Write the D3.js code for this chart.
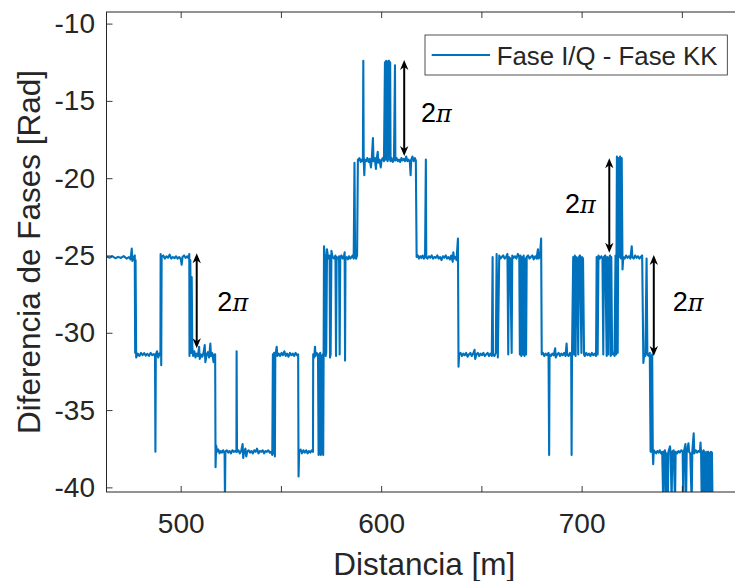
<!DOCTYPE html>
<html><head><meta charset="utf-8">
<script src="https://cdn.jsdelivr.net/npm/d3@7"></script>
<style>
body{margin:0;background:#fff}
svg{display:block}
text{font-family:"Liberation Sans",Arial,sans-serif;fill:#262626}
</style>
</head><body>
<svg id="c" width="735" height="581"></svg>
<script>
// ---------- data: distance [m], phase difference [rad] ----------
const seg1 = [[463.2,-25.08],[464.6,-25.14],[466.0,-25.05],[467.4,-25.18],[468.8,-25.09],[470.2,-25.16],[471.6,-25.04],[473.0,-25.2],[474.2,-25.1],[475.0,-25.25],[475.6,-24.55],[475.9,-25.35],[476.6,-25.1],[477.1,-25.0],[477.3,-31.3],[477.5,-25.3],[477.8,-31.6],[478.6,-31.35],[479.4,-31.5],[480.2,-31.3],[481.0,-31.45],[481.8,-31.32],[482.6,-31.48],[483.4,-31.36],[484.2,-31.5],[485.0,-31.3],[485.8,-31.45],[486.6,-31.38],[487.2,-31.5],[487.4,-37.7],[487.6,-31.4],[488.2,-31.2],[488.8,-31.6],[489.4,-31.35],[489.9,-31.45],[490.0,-24.9],[490.3,-32.1],[490.5,-25.1],[491.3,-25.0],[492.1,-25.2],[492.9,-25.05],[493.7,-25.15],[494.5,-24.95],[495.3,-25.2],[496.1,-25.1],[496.9,-25.18],[497.7,-25.05],[498.5,-25.2],[499.3,-25.1],[500.1,-25.25],[500.5,-25.6],[500.9,-25.1],[501.7,-25.0],[502.5,-25.15],[503.3,-25.05],[504.0,-25.2],[504.3,-24.9],[504.4,-31.5],[504.8,-25.3],[505.2,-31.3],[505.5,-26.4],[505.8,-30.9],[506.2,-31.5],[506.8,-31.2],[507.4,-31.6],[508.0,-31.35],[508.6,-31.5],[509.2,-30.9],[509.5,-31.7],[510.2,-31.4],[510.8,-31.55],[511.4,-31.3],[512.0,-30.8],[512.3,-31.9],[513.0,-31.4],[513.6,-31.25],[514.2,-31.6],[514.8,-30.7],[515.1,-31.5],[515.7,-31.3],[516.4,-31.9],[516.9,-31.4],[517.2,-31.4],[517.4,-38.7],[517.7,-37.3],[518.2,-37.7]];
const seg2 = [[518.8,-37.55],[519.4,-37.8],[520.0,-37.65],[520.6,-37.75],[521.2,-37.6],[521.9,-37.8],[522.1,-40.8],[522.3,-37.7],[523.0,-37.6],[523.7,-37.75],[524.4,-37.65],[525.1,-37.8],[525.8,-37.6],[526.5,-37.7],[527.2,-37.65],[527.8,-37.7],[527.9,-31.2],[528.1,-37.7],[528.8,-37.6],[529.5,-37.8],[530.2,-37.65],[530.9,-37.2],[531.2,-38.1],[531.6,-37.7],[532.3,-37.5],[532.7,-38.0],[533.2,-37.7],[533.9,-37.6],[534.6,-37.75],[535.3,-37.65],[536.0,-37.8],[536.7,-37.6],[537.4,-37.7],[538.1,-37.5],[538.8,-37.8],[539.5,-37.65],[540.2,-37.7],[540.9,-37.6],[541.6,-37.8],[542.3,-37.65],[543.0,-37.7],[543.7,-37.6],[544.4,-37.75],[545.1,-37.7],[545.7,-37.9],[546.0,-31.4],[546.3,-37.8],[546.6,-31.3],[547.0,-38.0],[547.2,-31.5],[547.9,-30.9],[548.2,-31.5],[548.9,-31.35],[549.6,-31.5],[550.3,-31.3],[551.0,-31.45],[551.7,-31.2],[552.4,-31.5],[553.1,-31.35],[553.8,-31.55],[554.5,-31.3],[555.2,-31.45],[555.9,-31.35],[556.6,-31.5],[557.3,-31.3],[558.0,-31.45],[558.6,-31.4],[558.8,-39.3],[559.1,-37.7],[559.8,-37.55],[560.5,-37.8],[561.2,-37.6],[561.9,-37.75],[562.6,-37.6],[563.3,-37.8],[564.0,-37.65],[564.7,-37.75],[565.4,-37.6],[566.0,-37.7],[566.1,-31.4],[566.6,-31.6],[567.0,-30.9],[567.3,-31.5],[567.9,-31.3],[568.5,-31.45],[568.8,-37.9],[569.0,-31.4],[569.3,-37.8],[569.6,-31.3],[569.9,-37.9],[570.2,-31.5],[570.5,-37.8],[570.8,-31.4],[571.1,-37.9],[571.3,-31.5],[571.5,-24.4],[572.0,-25.1],[572.3,-31.5],[572.6,-31.3],[573.0,-24.6],[573.6,-25.2],[574.3,-25.0],[574.5,-31.6],[574.8,-31.4],[575.2,-24.7],[575.8,-25.1],[576.5,-25.2],[577.2,-25.0],[577.5,-31.5],[577.8,-25.1],[578.4,-25.2],[579.0,-25.05],[579.3,-31.4],[579.6,-25.1],[580.2,-25.0],[580.8,-25.2],[581.4,-25.1],[581.8,-24.8],[582.0,-31.8],[582.2,-25.2],[582.8,-25.1],[583.4,-25.25],[584.0,-25.05],[584.6,-25.2],[585.2,-25.1],[585.8,-25.0],[586.3,-25.2],[586.7,-19.0],[587.0,-25.1],[587.5,-25.2],[588.0,-25.0],[588.4,-18.8]];
const seg3 = [[588.6,-18.85],[589.2,-18.7],[589.8,-18.95],[590.4,-18.8],[590.9,-18.9],[591.1,-12.4],[591.3,-18.8],[591.6,-19.8],[591.9,-18.8],[592.5,-18.9],[593.1,-18.7],[593.7,-18.95],[594.3,-18.75],[594.9,-19.3],[595.3,-18.8],[595.9,-17.4],[596.2,-18.9],[596.8,-18.7],[597.4,-19.4],[597.7,-18.8],[598.3,-18.3],[598.6,-19.0],[599.2,-18.8],[599.8,-19.3],[600.2,-18.85],[600.8,-18.7],[601.4,-18.9],[601.9,-12.5],[602.2,-18.8],[602.5,-12.4],[602.9,-12.5],[603.2,-18.9],[603.5,-12.45],[603.9,-12.4],[604.2,-18.8],[604.5,-12.5],[604.7,-18.9],[605.2,-18.7],[605.8,-18.95],[606.4,-18.8],[606.9,-12.7],[607.1,-18.85],[607.7,-18.7],[608.3,-18.9],[608.9,-18.8],[609.5,-18.95],[610.1,-18.7],[610.7,-18.85],[611.3,-18.75],[611.9,-18.9],[612.5,-18.6],[613.1,-18.9],[613.7,-18.8],[614.3,-18.95],[614.7,-19.8],[615.0,-18.8],[615.6,-18.6],[616.2,-18.9],[616.8,-18.7],[617.3,-18.85],[617.7,-25.1],[618.3,-25.0],[618.9,-25.2],[619.5,-25.05],[620.1,-25.15],[620.7,-25.0],[621.3,-25.2],[621.9,-25.1],[622.3,-18.8],[622.5,-25.1],[623.1,-25.2],[623.8,-25.05],[624.5,-25.15],[625.2,-25.0],[625.9,-25.2],[626.6,-25.1],[627.3,-25.15],[628.0,-25.0],[628.7,-25.2],[629.4,-25.1],[630.1,-25.3],[630.8,-25.05],[631.5,-25.15],[632.2,-25.0],[632.9,-25.2],[633.6,-25.1],[634.3,-25.25],[635.0,-25.0],[635.7,-25.4],[636.0,-24.8],[636.4,-25.2],[637.0,-25.1],[637.6,-25.3],[638.3,-23.9],[638.6,-32.2]];
const seg4 = [[638.9,-31.4],[639.6,-31.3],[640.3,-31.5],[641.0,-31.35],[641.7,-31.45],[642.4,-31.3],[643.1,-31.55],[643.8,-31.4],[644.5,-31.3],[645.2,-31.5],[645.9,-31.35],[646.6,-31.1],[646.9,-31.7],[647.5,-31.4],[648.2,-31.3],[648.9,-31.5],[649.6,-31.35],[650.3,-31.45],[651.0,-31.3],[651.7,-31.5],[652.4,-31.4],[653.1,-31.3],[653.8,-31.5],[654.5,-31.35],[655.2,-31.5],[655.6,-25.1],[655.8,-31.4],[656.5,-31.5],[657.2,-31.3],[657.6,-24.9],[658.2,-31.6],[658.9,-25.0],[659.5,-25.2],[660.2,-25.1],[660.9,-25.0],[661.6,-25.2],[662.3,-25.1],[663.0,-24.9],[663.4,-31.4],[663.7,-25.1],[664.4,-25.2],[665.1,-31.3],[665.4,-25.0],[666.1,-25.15],[666.8,-25.05],[667.5,-25.2],[668.2,-24.9],[668.9,-25.1],[669.2,-31.4],[669.5,-25.0],[669.9,-31.5],[670.3,-25.1],[670.7,-31.4],[671.1,-25.0],[671.5,-31.5],[671.9,-25.2],[672.3,-31.4],[672.6,-25.1],[673.3,-25.0],[674.0,-25.2],[674.7,-25.1],[675.4,-25.0],[676.1,-25.25],[676.8,-25.05],[677.5,-25.2],[678.2,-24.6],[678.5,-25.2],[679.2,-25.1],[679.8,-23.9],[680.1,-31.4],[680.7,-31.3],[681.4,-31.5],[682.1,-31.35],[682.8,-31.45],[683.5,-31.3],[683.8,-37.9],[684.0,-31.4],[684.7,-31.5],[685.4,-31.35],[686.1,-31.45],[686.8,-31.0],[687.1,-31.6],[687.8,-31.4],[688.5,-31.3],[689.2,-31.5],[689.9,-31.35],[690.6,-31.45],[691.3,-31.3],[692.0,-31.5],[692.5,-30.7],[692.8,-31.4],[693.5,-31.5],[694.2,-31.3],[694.8,-31.5],[695.0,-37.9],[695.2,-31.4],[695.8,-25.1],[696.2,-31.4],[696.6,-25.0],[697.0,-31.5],[697.3,-25.1],[697.8,-25.2],[698.3,-31.4],[698.6,-25.1],[699.2,-25.0],[699.9,-31.3],[700.2,-25.1],[700.7,-25.2],[701.2,-31.4]];
const seg5 = [[701.6,-31.5],[702.3,-31.3],[703.0,-31.45],[703.7,-31.35],[704.4,-31.5],[705.1,-31.3],[705.8,-31.45],[706.5,-31.35],[707.2,-31.5],[707.5,-25.1],[708.0,-31.4],[708.4,-25.0],[709.1,-25.2],[709.8,-25.05],[710.4,-25.2],[710.8,-31.4],[711.1,-25.1],[711.8,-25.0],[712.5,-31.5],[712.8,-25.1],[713.3,-31.4],[713.6,-25.2],[714.2,-25.0],[714.5,-31.5],[714.8,-25.1],[715.2,-31.4],[715.8,-31.3],[716.4,-31.5],[716.9,-25.0],[717.2,-31.4],[717.6,-18.6],[718.0,-31.3],[718.4,-18.7],[718.8,-25.1],[719.2,-18.6],[719.6,-25.2],[720.0,-18.7],[720.4,-25.9],[720.8,-25.1],[721.5,-25.2],[722.2,-25.0],[722.9,-25.15],[723.6,-25.05],[724.3,-25.2],[725.0,-24.4],[725.3,-25.1],[726.0,-25.2],[726.7,-25.0],[727.4,-25.15],[728.1,-25.05],[728.8,-25.2],[729.5,-25.1],[730.2,-25.0],[730.8,-31.95],[731.2,-31.4],[731.8,-31.5],[732.4,-25.2],[732.8,-31.4],[733.4,-31.5],[734.0,-31.3],[734.4,-37.7],[734.6,-31.5],[734.9,-37.7],[735.2,-31.4],[735.5,-37.8],[735.7,-38.5],[736.0,-37.6],[736.6,-37.7],[737.2,-37.8],[737.8,-37.65],[738.4,-37.75],[739.0,-37.6],[739.6,-37.8],[740.2,-37.7],[740.7,-41],[741.0,-37.7],[741.6,-37.6],[742.0,-41],[742.3,-37.8],[743.0,-41],[743.3,-37.7],[744.1,-37.35],[744.4,-37.8],[744.9,-41],[745.2,-37.7],[745.9,-37.6],[746.6,-41],[746.9,-37.7],[747.6,-37.8],[748.3,-37.65],[749.0,-37.75],[749.7,-37.6],[750.4,-37.7],[750.7,-41],[751.0,-37.7],[751.8,-37.2],[752.1,-41],[752.4,-37.8],[753.3,-37.15],[753.6,-37.7],[754.2,-37.8],[754.9,-41],[755.2,-37.7],[755.9,-36.5],[756.2,-37.8],[756.9,-37.6],[757.6,-37.75],[758.3,-37.65],[759.0,-37.7],[759.3,-37.1],[759.6,-37.8],[759.9,-41],[760.2,-37.7],[760.5,-41],[760.8,-37.6],[761.1,-41],[761.4,-37.7],[761.7,-41],[762.0,-37.8],[762.3,-41],[762.6,-37.7],[762.9,-41],[763.2,-37.7],[763.5,-41],[763.8,-37.8],[764.2,-41],[764.5,-37.7],[765.0,-37.75],[765.3,-41]];

const xTicks = [500, 550, 600, 650, 700, 750];
const xTickLabels = ["500", "", "600", "", "700", ""];
const yTicks = [-40, -35, -30, -25, -20, -15, -10];
const yTickLabels = ["-40", "-35", "-30", "-25", "-20", "-15", "-10"];

// 2π annotations: x, top and bottom of double arrow
const arrowX = [508, 611.5, 713.8, 736];
const arrowTop = [-24.86, -12.35, -18.71, -24.97];
const arrowBottom = [-31.0, -18.56, -24.82, -31.5];
const noteX = [518.3, 619.9, 691.7, 745.4];
const noteY = [-28.57, -16.35, -22.27, -28.59];

const seriesName = "Fase I/Q - Fase KK";
const xLabel = "Distancia [m]";
const yLabel = "Diferencia de Fases [Rad]";

// ---------- drawing ----------
const L = 106.5, T = 12, R = 742, B = 492;
const svg = d3.select("#c");
const x = d3.scaleLinear().domain([463, 780]).range([L, R]);
const y = d3.scaleLinear().domain([-40.3, -9.25]).range([B, T]);
const ink = "#262626";
const blue = "#0072BD";

svg.append("defs").append("clipPath").attr("id", "clip")
  .append("rect").attr("x", L).attr("y", T).attr("width", R - L).attr("height", B - T);

const data = [].concat(seg1, seg2, seg3, seg4, seg5);
const line = d3.line().x(d => x(d[0])).y(d => y(d[1]));
svg.append("path").datum(data).attr("clip-path", "url(#clip)")
  .attr("d", line).attr("fill", "none").attr("stroke", blue)
  .attr("stroke-width", 2.1).attr("stroke-linejoin", "round");

// axes
const fmtX = d => xTickLabels[xTicks.indexOf(d)];
const fmtY = d => yTickLabels[yTicks.indexOf(d)];
const gx = svg.append("g").attr("transform", `translate(0,${B})`)
  .call(d3.axisBottom(x).tickValues(xTicks).tickFormat(fmtX).tickSizeInner(-6).tickSizeOuter(0).tickPadding(21));
const gxt = svg.append("g").attr("transform", `translate(0,${T})`)
  .call(d3.axisTop(x).tickValues(xTicks).tickFormat("").tickSizeInner(-6).tickSizeOuter(0));
const gy = svg.append("g").attr("transform", `translate(${L},0)`)
  .call(d3.axisLeft(y).tickValues(yTicks).tickFormat(fmtY).tickSizeInner(-6).tickSizeOuter(0).tickPadding(11.5));
const gyr = svg.append("g").attr("transform", `translate(${R},0)`)
  .call(d3.axisRight(y).tickValues(yTicks).tickFormat("").tickSizeInner(-6).tickSizeOuter(0));
[gx, gxt, gy, gyr].forEach(g => {
  g.select(".domain").remove();
  g.selectAll(".tick line").attr("stroke", ink).attr("stroke-width", 0.9);
  g.selectAll(".tick text").attr("fill", ink).style("font-size", "28px")
    .style("font-family", '"Liberation Sans", Arial, sans-serif');
});
svg.append("rect").attr("x", L).attr("y", T).attr("width", R - L).attr("height", B - T)
  .attr("fill", "none").attr("stroke", ink).attr("stroke-width", 1);

// axis labels
svg.append("text").attr("x", (L + R) / 2).attr("y", 575).attr("text-anchor", "middle")
  .style("font-size", "31.5px").text(xLabel);
svg.append("text").attr("transform", `translate(40,${(T + B) / 2}) rotate(-90)`)
  .attr("text-anchor", "middle").style("font-size", "31.5px").text(yLabel);

// arrows
const ag = svg.append("g");
arrowX.forEach((ax, i) => {
  const px = x(ax), y1 = y(arrowTop[i]), y2 = y(arrowBottom[i]);
  ag.append("line").attr("x1", px).attr("x2", px).attr("y1", y1 + 4).attr("y2", y2 - 4)
    .attr("stroke", "#000").attr("stroke-width", 2);
  ag.append("path").attr("d", `M${px},${y1} L${px - 4.2},${y1 + 10} L${px},${y1 + 7} L${px + 4.2},${y1 + 10} Z`).attr("fill", "#000");
  ag.append("path").attr("d", `M${px},${y2} L${px - 4.2},${y2 - 10} L${px},${y2 - 7} L${px + 4.2},${y2 - 10} Z`).attr("fill", "#000");
  const t = ag.append("text").attr("x", x(noteX[i])).attr("y", y(noteY[i]))
    .style("font-size", "27px").attr("fill", "#000").style("fill", "#000");
  t.append("tspan").text("2");
  t.append("tspan").style("font-family", '"DejaVu Serif", serif').style("font-style", "italic")
    .style("font-size", "24px").text("π");
});

// legend
const lg = svg.append("g");
lg.append("rect").attr("x", 425).attr("y", 35).attr("width", 302.3).attr("height", 40)
  .attr("fill", "#fff").attr("stroke", ink).attr("stroke-width", 0.8);
lg.append("line").attr("x1", 431.7).attr("x2", 490).attr("y1", 55).attr("y2", 55)
  .attr("stroke", blue).attr("stroke-width", 2);
lg.append("text").attr("x", 496.7).attr("y", 65).style("font-size", "25.8px").text(seriesName);
</script>
</body></html>
